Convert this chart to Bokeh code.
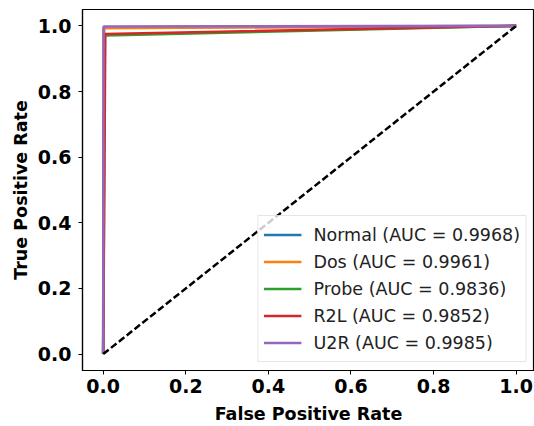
from bokeh.plotting import figure
from bokeh.embed import file_html
from bokeh.resources import INLINE
from bokeh.models import Range1d, FixedTicker, PrintfTickFormatter

classes = ["Normal", "Dos", "Probe", "R2L", "U2R"]
auc_values = [0.9968, 0.9961, 0.9836, 0.9852, 0.9985]
fpr_points = [
    [0.0, 0.002, 1.0],
    [0.0, 0.001, 1.0],
    [0.0, 0.004, 1.0],
    [0.0, 0.005, 1.0],
    [0.0, 0.001, 1.0],
]
tpr_points = [
    [0.0, 0.9955, 1.0],
    [0.0, 0.9932, 1.0],
    [0.0, 0.9712, 1.0],
    [0.0, 0.9754, 1.0],
    [0.0, 0.9980, 1.0],
]
diag_x = [0.0, 1.0]
diag_y = [0.0, 1.0]
tick_values = [0.0, 0.2, 0.4, 0.6, 0.8, 1.0]
colors = ["#1f77b4", "#ff7f0e", "#2ca02c", "#d62728", "#9467bd"]

p = figure(width=534, height=426, output_backend="svg", toolbar_location=None,
           x_range=Range1d(-0.0501, 1.0443), y_range=Range1d(-0.05, 1.05),
           min_border_left=82, min_border_right=0, min_border_top=9, min_border_bottom=55)

for name, auc, fx, ty, c in zip(classes, auc_values, fpr_points, tpr_points, colors):
    p.line(fx, ty, line_color=c, line_width=2.6, legend_label=f"{name} (AUC = {auc:.4f})")

p.line(diag_x, diag_y, line_color="black", line_width=2.5, line_dash="7 3")

p.grid.visible = False
p.outline_line_color = "black"
p.outline_line_width = 1.2
p.background_fill_color = "white"
p.border_fill_color = "white"

for ax in (p.xaxis[0], p.yaxis[0]):
    ax.ticker = FixedTicker(ticks=tick_values)
    ax.formatter = PrintfTickFormatter(format="%.1f")
    ax.minor_tick_line_color = None
    ax.major_tick_in = 0
    ax.major_tick_out = 4
    ax.major_tick_line_color = "black"
    ax.axis_line_color = "black"
    ax.axis_line_width = 1.2
    ax.major_label_text_font = "DejaVu Sans"
    ax.major_label_text_font_style = "bold"
    ax.major_label_text_font_size = "19px"
    ax.major_label_text_color = "black"
    ax.axis_label_text_font = "DejaVu Sans"
    ax.axis_label_text_font_style = "bold"
    ax.axis_label_text_font_size = "17.5px"
    ax.axis_label_text_color = "black"

p.xaxis[0].axis_label = "False Positive Rate"
p.yaxis[0].axis_label = "True Positive Rate"
p.xaxis[0].major_label_standoff = 4
p.xaxis[0].axis_label_standoff = 8
p.yaxis[0].major_label_standoff = 7
p.yaxis[0].axis_label_standoff = 4

lg = p.legend[0]
lg.location = "bottom_right"
lg.margin = 8
lg.padding = 5
lg.spacing = 0
lg.label_height = 27
lg.glyph_height = 27
lg.glyph_width = 38
lg.label_standoff = 12
lg.label_text_font = "DejaVu Sans"
lg.label_text_font_size = "17.5px"
lg.label_text_color = "#222222"
lg.border_line_color = "#cccccc"
lg.border_line_width = 1
lg.background_fill_alpha = 0.8

open("out.html", "w").write(file_html(p, INLINE))
